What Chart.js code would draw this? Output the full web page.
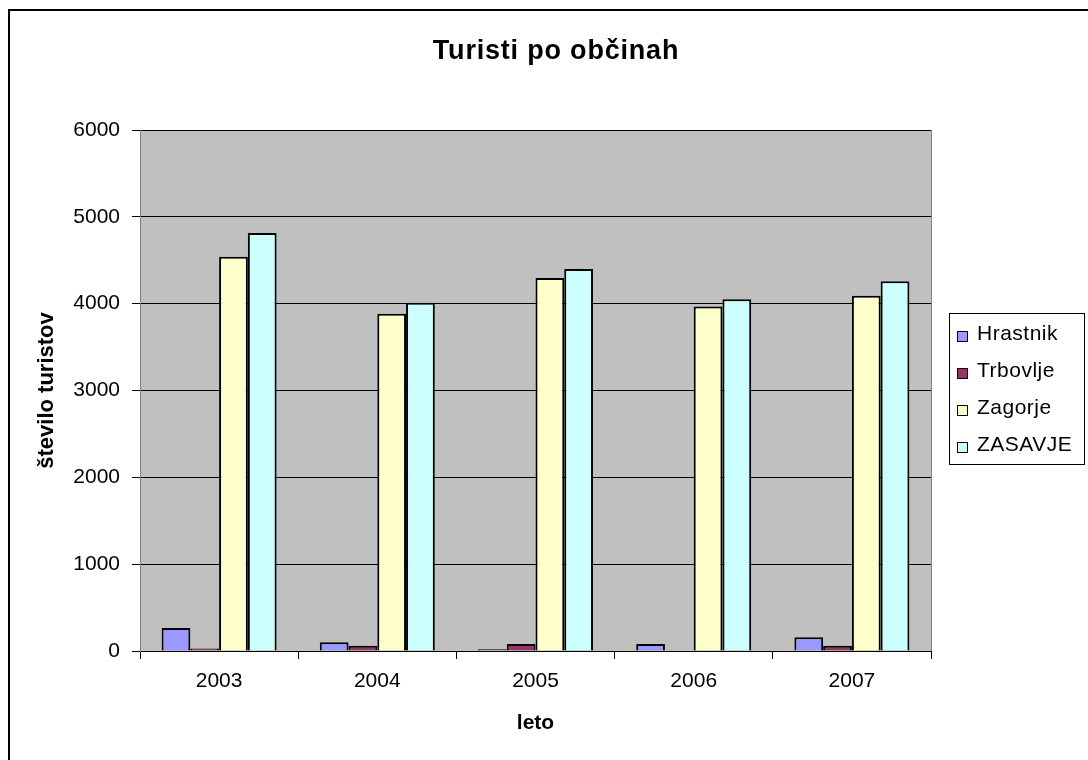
<!DOCTYPE html>
<html>
<head>
<meta charset="utf-8">
<title>Turisti po občinah</title>
<script src="https://cdn.jsdelivr.net/npm/chart.js@4/dist/chart.umd.min.js"></script>
<style>
  body { margin: 0; background: #fff; }
  #wrap { width: 1088px; height: 760px; }
</style>
</head>
<body>
<div id="wrap"><canvas id="chart" width="1088" height="760"></canvas></div>
<script>
// Data
const years = ['2003', '2004', '2005', '2006', '2007'];
const hrastnik = [265, 100, 20, 80, 158];
const trbovlje = [30, 60, 80, 0, 60];
const zagorje = [4541, 3885, 4296, 3966, 4092];
const zasavje = [4814, 4011, 4400, 4050, 4258];
const seriesNames = ['Hrastnik', 'Trbovlje', 'Zagorje', 'ZASAVJE'];
const seriesColors = ['#9999FF', '#993366', '#FFFFCC', '#CCFFFF'];
const chartTitle = 'Turisti po občinah';

const FONT = "'Liberation Sans', Arial, sans-serif";
Chart.defaults.color = '#000';
Chart.defaults.font.family = FONT;

// gray plot area, outer frame and the title (centred on the whole picture)
const plotBg = {
  id: 'plotBg',
  beforeDraw(chart) {
    const { ctx, chartArea: a } = chart;
    ctx.save();
    ctx.strokeStyle = '#000';
    ctx.lineWidth = 2;
    ctx.beginPath();
    ctx.moveTo(9, 760);
    ctx.lineTo(9, 10);
    ctx.lineTo(1088, 10);
    ctx.stroke();
    ctx.fillStyle = '#C0C0C0';
    ctx.fillRect(a.left, a.top, a.right - a.left, a.bottom - a.top);
    ctx.strokeStyle = '#808080';
    ctx.lineWidth = 1;
    ctx.strokeRect(a.left + 0.5, a.top + 0.5, a.right - a.left, a.bottom - a.top);

    ctx.fillStyle = '#000';
    ctx.font = 'bold 27px ' + FONT;
    ctx.letterSpacing = '0.8px';
    ctx.textAlign = 'center';
    ctx.textBaseline = 'middle';
    ctx.fillText(chartTitle, 556, 52);
    ctx.restore();
  }
};

// boxed legend on the right, like the original
const boxLegend = {
  id: 'boxLegend',
  afterDraw(chart) {
    const { ctx } = chart;
    const x = 949, y = 313, w = 135, h = 151;
    ctx.save();
    ctx.fillStyle = '#fff';
    ctx.fillRect(x, y, w, h);
    ctx.strokeStyle = '#000';
    ctx.lineWidth = 1;
    ctx.strokeRect(x + 0.5, y + 0.5, w, h);
    ctx.font = '21px ' + FONT;
    ctx.letterSpacing = '0.5px';
    ctx.textBaseline = 'middle';
    chart.data.datasets.forEach((ds, i) => {
      const cy = 334 + i * 37;
      ctx.fillStyle = ds.backgroundColor;
      ctx.fillRect(957, cy - 3, 10, 10);
      ctx.strokeStyle = '#000';
      ctx.strokeRect(957.5, cy - 2.5, 10, 10);
      ctx.fillStyle = '#000';
      ctx.fillText(ds.label, 977, cy);
    });
    ctx.restore();
  }
};

const allSeries = [hrastnik, trbovlje, zagorje, zasavje];

new Chart(document.getElementById('chart'), {
  type: 'bar',
  data: {
    labels: years,
    datasets: allSeries.map((vals, i) => ({
      label: seriesNames[i],
      data: vals,
      backgroundColor: seriesColors[i],
      borderColor: '#000',
      borderWidth: 2,
      categoryPercentage: 0.727,
      barPercentage: 1
    }))
  },
  options: {
    responsive: false,
    animation: false,
    devicePixelRatio: 1,
    layout: { padding: { top: 130, right: 157, left: 0, bottom: 0 } },
    plugins: {
      legend: { display: false },
      tooltip: { enabled: false },
      title: { display: false }
    },
    scales: {
      x: {
        afterFit(s) { s.height = 109; },
        grid: { display: true, drawOnChartArea: false, drawTicks: true, tickLength: 8, color: '#000', offset: true },
        border: { color: '#000', width: 1 },
        ticks: { font: { size: 21 }, padding: 10, color: '#000' },
        title: { display: true, text: 'leto', font: { size: 21, weight: 'bold', lineHeight: 1.2 }, padding: { top: 4, bottom: 24.4 }, color: '#000' }
      },
      y: {
        min: 0,
        max: 6000,
        afterFit(s) { s.width = 140; },
        grid: { color: '#000', tickLength: 8, drawTicks: true },
        border: { color: '#808080', width: 1 },
        ticks: { stepSize: 1000, font: { size: 21 }, padding: 12, color: '#000', callback: v => String(v) },
        title: { display: true, text: 'število turistov', font: { size: 22, weight: 'bold', lineHeight: 1.2 }, padding: { top: 33.8, bottom: 0 }, color: '#000' }
      }
    }
  },
  plugins: [plotBg, boxLegend]
});
</script>
</body>
</html>
